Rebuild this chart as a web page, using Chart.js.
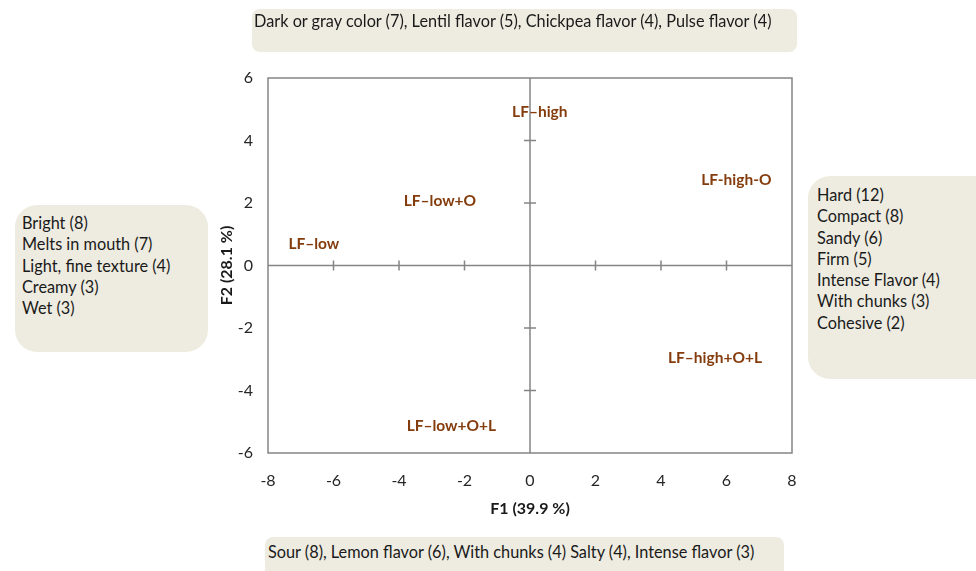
<!DOCTYPE html>
<html>
<head>
<meta charset="utf-8">
<script src="https://cdn.jsdelivr.net/npm/chart.js@4/dist/chart.umd.min.js"></script>
<style>
  body { margin: 0; background: #fff; }
  #wrap { position: relative; width: 976px; height: 571px; overflow: hidden; font-family: Lato, sans-serif; }
  canvas { position: absolute; left: 0; top: 0; }
  .box { position: absolute; background: #EEECE1; color: #1a1a1a; font-size: 16.3px; line-height: 21.3px; box-sizing: border-box; white-space: nowrap; }
</style>
</head>
<body>
<div id="wrap">
  <canvas id="pca" width="976" height="571"></canvas>
  <div class="box" id="topBox" style="left:252px;top:9px;width:545px;height:43px;border-radius:8px;padding:1px 0 0 2px;"></div>
  <div class="box" id="bottomBox" style="left:265px;top:537px;width:519px;height:44px;border-radius:8px;padding:4px 0 0 3px;"></div>
  <div class="box" id="leftBox" style="left:15px;top:205px;width:193px;height:147px;border-radius:22px;padding:7px 0 0 7px;"></div>
  <div class="box" id="rightBox" style="left:808px;top:176px;width:190px;height:203px;border-radius:22px;padding:8px 0 0 9px;"></div>
</div>
<script>
// products in the F1/F2 plane
const products = ['LF\u2013high', 'LF-high-O', 'LF\u2013low+O', 'LF\u2013low', 'LF\u2013high+O+L', 'LF\u2013low+O+L'];
const f1 = [0.3, 6.3, -2.75, -6.6, 5.65, -2.4];
const f2 = [4.9, 2.75, 2.05, 0.7, -2.95, -5.15];

const xTicks = [-8, -6, -4, -2, 0, 2, 4, 6, 8];
const yTicks = [-6, -4, -2, 0, 2, 4, 6];

// descriptors around the map
const topTerms = ['Dark or gray color (7), Lentil flavor (5), Chickpea flavor (4), Pulse flavor (4)'];
const bottomTerms = ['Sour (8), Lemon flavor (6), With chunks (4) Salty (4), Intense flavor (3)'];
const leftTerms = ['Bright (8)', 'Melts in mouth (7)', 'Light, fine texture (4)', 'Creamy (3)', 'Wet (3)'];
const rightTerms = ['Hard (12)', 'Compact (8)', 'Sandy (6)', 'Firm (5)', 'Intense Flavor (4)', 'With chunks (3)', 'Cohesive (2)'];

function fillBox(id, lines) {
  const el = document.getElementById(id);
  lines.forEach(t => {
    const d = document.createElement('div');
    d.textContent = t;
    el.appendChild(d);
  });
}
fillBox('topBox', topTerms);
fillBox('bottomBox', bottomTerms);
fillBox('leftBox', leftTerms);
fillBox('rightBox', rightTerms);

const gray = '#858585';

// frame, zero axes and the small crossing ticks
const framePlugin = {
  id: 'frame',
  beforeDatasetsDraw(chart) {
    const { ctx, chartArea: a, scales: { x, y } } = chart;
    const x0 = x.getPixelForValue(0);
    const y0 = y.getPixelForValue(0);
    ctx.save();
    ctx.strokeStyle = gray;
    ctx.lineWidth = 1.5;
    ctx.strokeRect(a.left, a.top, a.right - a.left, a.bottom - a.top);
    ctx.beginPath();
    ctx.moveTo(x0, a.top); ctx.lineTo(x0, a.bottom);
    ctx.moveTo(a.left, y0); ctx.lineTo(a.right, y0);
    xTicks.filter(v => v !== 0 && Math.abs(v) !== 8).forEach(v => {
      const px = x.getPixelForValue(v);
      ctx.moveTo(px, y0 - 5); ctx.lineTo(px, y0 + 5);
    });
    yTicks.filter(v => v !== 0 && Math.abs(v) !== 6).forEach(v => {
      const py = y.getPixelForValue(v);
      ctx.moveTo(x0 - 6, py); ctx.lineTo(x0 + 6, py);
    });
    ctx.stroke();
    ctx.restore();
  }
};

// product names drawn at their points
const labelPlugin = {
  id: 'pointLabels',
  afterDatasetsDraw(chart) {
    const { ctx } = chart;
    const meta = chart.getDatasetMeta(0);
    ctx.save();
    ctx.font = 'bold 15.5px Lato, sans-serif';
    ctx.fillStyle = '#843C0C';
    ctx.textAlign = 'center';
    ctx.textBaseline = 'middle';
    meta.data.forEach((pt, i) => {
      ctx.fillText(products[i], pt.x, pt.y);
    });
    ctx.restore();
  }
};

new Chart(document.getElementById('pca'), {
  type: 'scatter',
  data: {
    datasets: [{
      label: 'Products',
      data: f1.map((v, i) => ({ x: v, y: f2[i] })),
      pointRadius: 0,
      pointHoverRadius: 0
    }]
  },
  options: {
    responsive: false,
    animation: false,
    layout: { padding: { left: 215, top: 78, right: 184, bottom: 43 } },
    plugins: { legend: { display: false }, tooltip: { enabled: false } },
    scales: {
      x: {
        type: 'linear', min: -8, max: 8,
        afterBuildTicks: s => { s.ticks = xTicks.map(v => ({ value: v })); },
        afterFit: s => { s.height = 75; },
        grid: { display: false, drawTicks: false },
        border: { display: false },
        ticks: { padding: 18, color: '#262626', font: { family: 'Lato', size: 16 } },
        title: { display: true, text: 'F1 (39.9 %)', color: '#1a1a1a', padding: { top: 0, bottom: 10 }, font: { family: 'Lato', size: 16, weight: 'bold' } }
      },
      y: {
        type: 'linear', min: -6, max: 6,
        afterBuildTicks: s => { s.ticks = yTicks.map(v => ({ value: v })); },
        afterFit: s => { s.width = 53; },
        grid: { display: false, drawTicks: false },
        border: { display: false },
        ticks: { padding: 15, color: '#262626', font: { family: 'Lato', size: 16 } },
        title: { display: true, text: 'F2 (28.1 %)', color: '#1a1a1a', padding: { top: 2, bottom: 0 }, font: { family: 'Lato', size: 16, weight: 'bold' } }
      }
    }
  },
  plugins: [framePlugin, labelPlugin]
});
</script>
</body>
</html>
